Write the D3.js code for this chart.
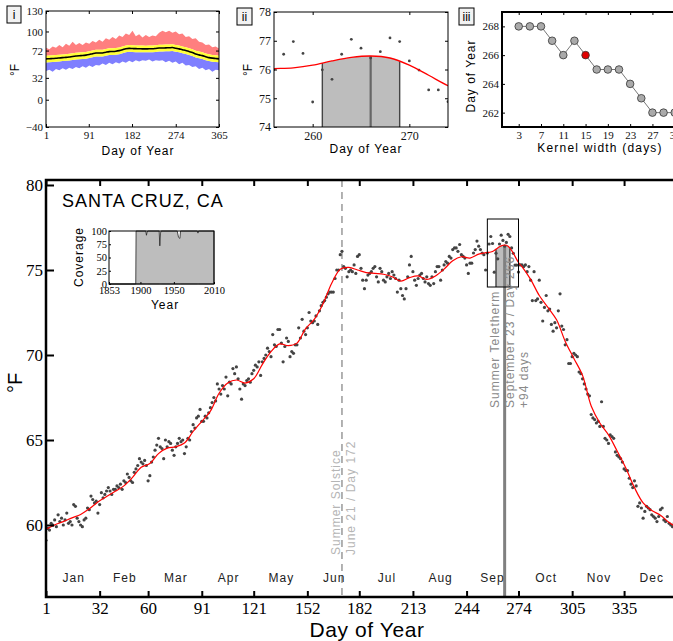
<!DOCTYPE html>
<html>
<head>
<meta charset="utf-8">
<script src="https://cdn.jsdelivr.net/npm/d3@7"></script>
<style>
  body { margin: 0; background: #fff; }
  svg text { font-family: "Liberation Sans", Arial, sans-serif; }
</style>
</head>
<body>
<svg id="chart" width="673" height="641"></svg>
<script>
// ---- daily mean max temperature (deg F), one array per month ----
const jan = [59.1,59.8,59.7,60.1,60.0,60.3,59.9,60.6,60.2,60.4, 60.0,60.3,60.7,60.1,60.2,60.0,61.2,61.1,60.4,60.2, 60.0,59.9,60.3,60.4,61.0,60.9,61.7,61.5,61.3,61.4, 60.7];
const feb = [61.2,61.9,61.6,61.8,62.0,62.2,62.0,61.8,62.1, 62.1,62.3,62.2,62.4,62.1,62.6,62.5,63.0,62.8,62.6, 62.5,63.1,63.3,63.5,63.9,63.7,63.6,63.8,63.5];
const mar = [62.6, 62.9,63.7,64.0,64.4,64.7,65.1,64.6,64.5,63.9,65.0, 64.6,64.9,64.8,64.4,64.1,64.6,64.8,65.1,64.9,65.0, 64.2,64.6,65.1,65.0,65.5,65.9,65.7,66.3,66.4,66.8];
const apr = [66.1,66.1,66.4,66.3,66.6,66.9,67.2,67.5,67.3,68.3, 68.0,67.7,68.2,68.0,68.7,67.6,68.4,68.3,69.2,68.9, 69.3,68.6,68.0,67.4,68.3,68.2,68.5,68.6,68.4,68.9];
const may = [69.1,69.4,69.3,69.6,68.8,69.6,69.8,70.0,70.4,70.2, 69.9,71.2,70.6,70.5,71.5,71.5,70.7,69.6,70.5,71.0, 70.8,69.9,70.2,70.1,70.6,70.6,71.6,71.0,72.1,71.4, 71.2];
const jun = [71.6,72.5,72.0,71.9,72.0,72.3,71.8,72.6,72.9, 73.1,73.2,73.4,73.6,73.7,73.7,73.7,74.5,75.0,75.0, 75.9,76.1,75.2,75.1,74.6,74.9,75.0,74.9,75.3,74.8, 75.8];
const jul = [75.9,75.1,74.4,73.9,74.4,74.7,74.8,74.9,75.1, 75.2,74.6,74.3,75.1,74.9,74.4,74.3,74.6,74.8,74.5, 74.9,74.7,74.5,73.7,74.4,73.9,73.5,73.3,73.9,74.6, 75.3,75.8];
const aug = [74.9,74.4,74.1,74.5,74.7,74.8,74.5,74.3, 74.6,74.2,74.1,74.6,74.2,74.9,75.2,75.2,74.4,75.0, 75.3,75.5,75.4,75.8,75.7,76.2,76.3,76.3,76.1,76.5, 75.9,75.8,75.7];
const sep = [75.3,74.8,75.4,75.4,76.0,76.2,76.7, 76.4,76.2,76.0,75.9,75.0, 76.0,76.53,76.97,76.56,74.87,75.99,75.66,76.53,77.05,76.74,76.4,76.62,77.1,76.97,76.3,75.98,75.29,75.29];
const oct = [74.88, 75.3,75.3,75.2,75.3,74.9,75.2, 74.4,73.2,74.9,73.2,73.3,74.4,73.1,72.0,72.8,73.5, 72.6,72.7,71.8,71.4,71.9,71.6,72.6,73.6,71.7,71.5, 70.6,70.9,69.5,69.5];
const nov = [69.9,70.1,70.0,69.9,69.0,68.9, 68.6,68.3,68.0,67.7,67.6,66.5,66.3,66.2,66.0,66.1, 65.8,67.25,65.8,65.1,65.0,64.8,65.3,65.2,65.1,64.3, 64.1,64.0,63.9,63.7];
const dec = [63.3,63.2,63.2,62.75,62.4,62.2, 62.6,62.3,61.1,61.3,61.0,60.4,60.8,61.1,61.0,60.9, 60.6,60.5,60.4,60.2,60.5,60.9,61.0,60.3,60.2,60.5, 60.1,60.0,59.9,60.1,60.0];

// ---- smoothed (kernel) curve ----
const curveDay  = [1,6,11,16,21,26,31,36,41,46,51,56,61,66,71,76,81,86,91,96,101,106,111,116,121,126,131,136,141,146,151,156,161,166,171,176,181,186,191,196,201,206,211,216,221,226,231,236,241,246,251,254,256,258,260,262,264,266,268,270,272,274,276,281,286,291,296,301,306,311,316,321,326,331,336,341,346,351,356,361,365];
const curveTemp = [59.75,60.0,60.2,60.42,60.62,60.95,61.35,61.67,61.98,62.3,62.8,63.4,63.62,64.2,64.52,64.6,64.82,65.5,66.1,66.7,67.75,68.35,68.53,68.35,68.6,69.45,70.2,70.65,70.55,70.7,71.55,72.1,73.0,74.2,75.05,75.15,75.0,74.85,74.8,74.75,74.6,74.35,74.55,74.65,74.45,74.65,75.05,75.55,75.78,75.7,75.93,76.0,76.03,76.06,76.15,76.3,76.42,76.47,76.4,76.15,75.8,75.44,75.2,74.45,73.5,72.8,72.07,70.8,69.8,68.8,67.0,66.0,65.3,64.35,63.35,62.2,61.3,60.85,60.58,60.15,59.9];

const monthStart = [1,32,60,91,121,152,182,213,244,274,305,335];
const monthNames = ["Jan","Feb","Mar","Apr","May","Jun","Jul","Aug","Sep","Oct","Nov","Dec"];
const monthMid   = [17,46.5,76,106.5,137,167.5,198,229,259,290,320.5,351];
const mainYTicks = [60,65,70,75,80];

const solsticeDay = 172, telethermDay = 266;
const windowLo = 261, windowHi = 269;     // kernel window around teletherm
const zoomBox = {d0: 256, d1: 274, t0: 74, t1: 78};

// ---- panel i: record band, sd band, mean ----
const p1Day   = [1,8,15,22,29,36,43,50,57,64,71,78,85,92,99,106,113,120,127,134,141,148,155,162,169,176,183,190,197,204,211,218,225,232,239,246,253,260,267,274,281,288,295,302,309,316,323,330,337,344,351,358,365];
const p1High  = [76,74,78,76,80,77,82,79,85,80,83,80,84,82,86,84,88,85,90,88,92,89,94,92,97,95,101,93,96,91,95,92,94,93,98,101,99,101,98,100,96,97,92,93,89,90,85,84,80,81,77,78,75];
const p1Upper = [64.5,64.8,65.0,65.4,66.0,66.3,66.8,67.5,68.1,68.7,69.3,69.5,70.0,71.0,72.2,73.1,73.3,73.2,74.3,75.3,75.4,75.8,76.6,78.0,79.6,80.0,79.8,79.5,79.4,79.3,79.2,79.4,79.3,79.9,80.5,80.5,80.8,80.9,81.2,80.2,79.3,78.0,77.0,75.4,74.0,71.8,70.5,69.4,67.8,66.5,65.6,65.1,64.6];
const p1Mean  = [59.8,60.1,60.4,60.7,61.2,61.7,62.1,62.7,63.4,64.0,64.5,64.7,65.3,66.2,67.4,68.4,68.4,68.5,69.6,70.5,70.6,71.0,71.9,73.2,74.8,75.2,75.0,74.8,74.7,74.5,74.5,74.6,74.6,75.1,75.7,75.7,76.0,76.1,76.4,75.4,74.5,73.2,72.2,70.6,69.2,67.0,65.7,64.6,63.1,61.7,60.9,60.4,59.9];
const p1Lower = [54.6,54.9,55.3,55.6,56.1,56.6,57.0,57.6,58.3,58.9,59.3,59.6,60.2,61.1,62.3,63.3,63.3,63.4,64.5,65.4,65.5,65.9,66.8,68.1,69.7,70.1,69.9,69.7,69.6,69.4,69.4,69.5,69.5,70.0,70.6,70.6,70.9,71.0,71.3,70.3,69.4,68.1,67.1,65.5,64.1,61.9,60.6,59.5,58.0,56.6,55.8,55.3,54.8];
const p1Low   = [42,44,41,45,43,46,44,47,45,48,46,49,47,50,48,51,50,53,51,54,52,55,53,56,54,57,55,58,56,58,57,59,56,58,57,58,55,57,54,56,52,54,50,51,48,49,45,47,43,45,41,44,43];
const p1XTicks = [1,91,182,274,365];
const p1YTicks = [-40,0,32,72,100,130];

// ---- panel iii: teletherm day vs kernel width ----
const kernelWidth = [3,5,7,9,11,13,15,17,19,21,23,25,27,29,31];
const kernelDay   = [268,268,268,267,266,267,266,265,265,265,264,263,262,262,262];
const chosenWidth = 15;

// ---- inset: data coverage ----
const covYear = [1853,1893,1893.5,1908,1909,1910,1911,1928,1929,1930,1931,1955,1957,1959,1960,1985,1986,1987,2010];
const covPct  = [0,0,100,100,92,98,100,100,72,96,100,100,88,86,100,100,96,100,100];

const daily = [].concat(jan,feb,mar,apr,may,jun,jul,aug,sep,oct,nov,dec).map((t,i) => ({day: i + 1, t}));
if (daily.length !== 365) console.error("daily length", daily.length);
const curvePts = curveDay.map((d,i) => ({day: d, t: curveTemp[i]}));
const curveAt = d3.scaleLinear().domain(curveDay).range(curveTemp);

const serif = '"Liberation Serif", "Times New Roman", serif';
const svg = d3.select("#chart");
const defs = svg.append("defs");

// ticks inward on all four sides, labels left + bottom
function panelAxes(g, xs, ys, xTicks, yTicks, tickLen, fontSize) {
    const [xa, xb] = xs.range(), [yb, ya] = ys.range();
    g.append("g").attr("transform", `translate(0,${yb})`)
        .call(d3.axisBottom(xs).tickValues(xTicks).tickFormat(d3.format("d")).tickSize(-tickLen).tickPadding(4));
    g.append("g").attr("transform", `translate(0,${ya})`)
        .call(d3.axisTop(xs).tickValues(xTicks).tickSize(-tickLen).tickFormat(""));
    g.append("g").attr("transform", `translate(${xa},0)`)
        .call(d3.axisLeft(ys).tickValues(yTicks).tickFormat(d3.format("d")).tickSize(-tickLen).tickPadding(3));
    g.append("g").attr("transform", `translate(${xb},0)`)
        .call(d3.axisRight(ys).tickValues(yTicks).tickSize(-tickLen).tickFormat(""));
    g.selectAll(".domain").remove();
    g.selectAll(".tick text").style("font-family", serif).style("font-size", fontSize + "px").attr("fill", "#111");
}

function panelTag(label, x0, y0, w) {
    svg.append("rect").attr("x", x0).attr("y", y0).attr("width", w).attr("height", 17)
        .attr("fill", "#f2f2f2").attr("stroke", "#000").attr("stroke-width", 1);
    svg.append("text").attr("x", x0 + w / 2).attr("y", y0 + 13).attr("text-anchor", "middle")
        .style("font-size", "12px").text(label);
}

// ================= panel i =================
{
    const xs = d3.scaleLinear().domain([1,365]).range([46,219]);
    const ys = d3.scaleLinear().domain([-40,130]).range([127,11]);
    const g = svg.append("g");
    const idx = p1Day.map((d,i) => i);
    const band = (lo, hi) => d3.area().x(i => xs(p1Day[i])).y0(i => ys(lo[i])).y1(i => ys(hi[i]));
    g.append("path").datum(idx).attr("d", band(p1Upper, p1High)).attr("fill", "#ff7f7f");
    g.append("path").datum(idx).attr("d", band(p1Low, p1Lower)).attr("fill", "#7f7fff");
    g.append("path").datum(idx).attr("d", band(p1Lower, p1Upper)).attr("fill", "#ffff3a");
    g.append("path").datum(idx)
        .attr("d", d3.line().x(i => xs(p1Day[i])).y(i => ys(p1Mean[i])).curve(d3.curveCatmullRom))
        .attr("fill", "none").attr("stroke", "#000").attr("stroke-width", 1.6);
    panelAxes(g, xs, ys, p1XTicks, p1YTicks, 3, 11);
    g.append("rect").attr("x", 46).attr("y", 11).attr("width", 173).attr("height", 116)
        .attr("fill", "none").attr("stroke", "#000");
    g.append("text").attr("x", 138).attr("y", 155).attr("text-anchor", "middle")
        .style("font-size", "12px").style("letter-spacing", "1px").text("Day of Year");
    g.append("text").attr("transform", "translate(19,70) rotate(-90)").attr("text-anchor", "middle")
        .style("font-size", "12px").text("°F");
    panelTag("i", 7, 6, 14);
}

// ================= panel ii =================
{
    const xs = d3.scaleLinear().domain([zoomBox.d0, zoomBox.d1]).range([274,448]);
    const ys = d3.scaleLinear().domain([zoomBox.t0, zoomBox.t1]).range([127,12]);
    const g = svg.append("g");
    defs.append("clipPath").attr("id", "clip2").append("rect")
        .attr("x", 274).attr("y", 12).attr("width", 174).attr("height", 115);
    defs.append("clipPath").attr("id", "win2").append("rect")
        .attr("x", xs(windowLo)).attr("y", 12).attr("width", xs(windowHi) - xs(windowLo)).attr("height", 115);
    const inner = g.append("g").attr("clip-path", "url(#clip2)");
    inner.append("path").datum(curvePts)
        .attr("clip-path", "url(#win2)")
        .attr("d", d3.area().x(d => xs(d.day)).y0(ys(zoomBox.t0)).y1(d => ys(d.t)).curve(d3.curveCatmullRom))
        .attr("fill", "#bdbdbd");
    [windowLo, telethermDay, windowHi].forEach(d => {
        inner.append("line").attr("x1", xs(d)).attr("x2", xs(d))
            .attr("y1", ys(zoomBox.t0)).attr("y2", ys(curveAt(d)))
            .attr("stroke", d === telethermDay ? "#666" : "#444").attr("stroke-width", d === telethermDay ? 2.2 : 1.4);
    });
    inner.selectAll("circle").data(daily.filter(d => d.day >= zoomBox.d0 && d.day <= zoomBox.d1))
        .join("circle").attr("cx", d => xs(d.day)).attr("cy", d => ys(d.t)).attr("r", 1.4).attr("fill", "#444");
    inner.append("path").datum(curvePts)
        .attr("d", d3.line().x(d => xs(d.day)).y(d => ys(d.t)).curve(d3.curveCatmullRom))
        .attr("fill", "none").attr("stroke", "#f00").attr("stroke-width", 1.3);
    panelAxes(g, xs, ys, [260,270], [74,75,76,77,78], 3, 12);
    g.append("rect").attr("x", 274).attr("y", 12).attr("width", 174).attr("height", 115)
        .attr("fill", "none").attr("stroke", "#000");
    g.append("text").attr("x", 366).attr("y", 153).attr("text-anchor", "middle")
        .style("font-size", "12px").style("letter-spacing", "1px").text("Day of Year");
    g.append("text").attr("transform", "translate(252,70) rotate(-90)").attr("text-anchor", "middle")
        .style("font-size", "12px").text("°F");
    panelTag("ii", 237, 8, 15);
}

// ================= panel iii =================
{
    const xs = d3.scaleLinear().domain([0,31.5]).range([502,677.5]);
    const ys = d3.scaleLinear().domain([261,269]).range([127,12]);
    const g = svg.append("g");
    const pts = kernelWidth.map((w,i) => ({w, d: kernelDay[i]}));
    g.append("path").datum(pts)
        .attr("d", d3.line().x(p => xs(p.w)).y(p => ys(p.d)))
        .attr("fill", "none").attr("stroke", "#777").attr("stroke-width", 1);
    g.selectAll("circle").data(pts).join("circle")
        .attr("cx", p => xs(p.w)).attr("cy", p => ys(p.d)).attr("r", 3.8)
        .attr("fill", p => p.w === chosenWidth ? "#e00000" : "#aaa")
        .attr("stroke", "#333").attr("stroke-width", 0.8);
    panelAxes(g, xs, ys, [3,7,11,15,19,23,27,31], [262,264,266,268], 3, 11);
    g.append("path").attr("d", `M677,12 H502 V127 H677`).attr("fill", "none").attr("stroke", "#000").attr("stroke-width", 2);
    g.append("text").attr("x", 600).attr("y", 152).attr("text-anchor", "middle")
        .style("font-size", "12px").style("letter-spacing", "1.2px").text("Kernel width (days)");
    g.append("text").attr("transform", "translate(475,76) rotate(-90)").attr("text-anchor", "middle")
        .style("font-size", "12px").style("letter-spacing", "1px").text("Day of Year");
    panelTag("iii", 459, 8, 15);
}

// ================= main chart =================
const x = d3.scaleLinear().domain([1,365]).range([46,676]);
const y = d3.scaleLinear().domain([60,80]).range([525,185]);
const plotTop = 180, plotBot = 597;

defs.append("clipPath").attr("id", "mainClip").append("rect")
    .attr("x", 46).attr("y", plotTop).attr("width", 630).attr("height", plotBot - plotTop);
defs.append("clipPath").attr("id", "winMain").append("rect")
    .attr("x", x(windowLo)).attr("y", plotTop).attr("width", x(windowHi) - x(windowLo)).attr("height", plotBot - plotTop);

const main = svg.append("g").attr("clip-path", "url(#mainClip)");

// kernel window fill under curve
main.append("path").datum(curvePts).attr("clip-path", "url(#winMain)")
    .attr("d", d3.area().x(d => x(d.day)).y0(y(zoomBox.t0)).y1(d => y(d.t)).curve(d3.curveCatmullRom))
    .attr("fill", "#bdbdbd");
[windowLo, windowHi].forEach(d => {
    main.append("line").attr("x1", x(d)).attr("x2", x(d))
        .attr("y1", y(zoomBox.t0)).attr("y2", y(curveAt(d)))
        .attr("stroke", "#444").attr("stroke-width", 1.4);
});

// solstice
main.append("line").attr("x1", x(solsticeDay)).attr("x2", x(solsticeDay))
    .attr("y1", plotTop).attr("y2", plotBot)
    .attr("stroke", "#999").attr("stroke-width", 1.5).attr("stroke-dasharray", "7,5");

// teletherm
main.append("line").attr("x1", x(telethermDay)).attr("x2", x(telethermDay))
    .attr("y1", y(curveAt(telethermDay))).attr("y2", plotBot)
    .attr("stroke", "#808080").attr("stroke-width", 3);

main.selectAll("circle.dot").data(daily).join("circle").attr("class", "dot")
    .attr("cx", d => x(d.day)).attr("cy", d => y(d.t)).attr("r", 1.6).attr("fill", "#444");

main.append("path").datum(curvePts)
    .attr("d", d3.line().x(d => x(d.day)).y(d => y(d.t)).curve(d3.curveCatmullRom))
    .attr("fill", "none").attr("stroke", "#f00").attr("stroke-width", 1.2);

main.append("rect").attr("x", x(zoomBox.d0)).attr("y", y(zoomBox.t1))
    .attr("width", x(zoomBox.d1) - x(zoomBox.d0)).attr("height", y(zoomBox.t0) - y(zoomBox.t1))
    .attr("fill", "none").attr("stroke", "#000").attr("stroke-width", 1);

// annotations
const annot = (lines, x0, yStart, color, gap) => {
    lines.forEach((s, i) => {
        svg.append("text").attr("transform", `translate(${x0 + i * gap},${yStart}) rotate(-90)`)
            .attr("fill", color).style("font-size", "12px").style("letter-spacing", "1px").text(s);
    });
};
annot(["Summer Solstice", "June 21 / Day 172"], 340, 555, "#b5b5b5", 14.5);
annot(["Summer Teletherm", "September 23 / Day 266", "+94 days"], 499, 408, "#8a8a8a", 14.5);

// month labels
svg.append("g").selectAll("text").data(monthNames).join("text")
    .attr("x", (m,i) => x(monthMid[i])).attr("y", 582).attr("text-anchor", "middle")
    .attr("fill", "#222").style("font-size", "12px").style("letter-spacing", "1px").text(m => m);

// axes / frame
const ax = svg.append("g");
ax.append("g").attr("transform", `translate(0,${plotBot})`)
    .call(d3.axisBottom(x).tickValues(monthStart).tickSize(-6).tickPadding(5));
ax.append("g").attr("transform", `translate(0,${plotTop})`)
    .call(d3.axisTop(x).tickValues(monthStart).tickSize(-6).tickFormat(""));
ax.append("g").attr("transform", `translate(46,0)`)
    .call(d3.axisLeft(y).tickValues(mainYTicks).tickSize(-8).tickPadding(3));
ax.selectAll(".domain").remove();
ax.selectAll(".tick line").attr("stroke", "#000").attr("stroke-width", 2);
ax.selectAll(".tick text").style("font-family", serif).style("font-size", "17px").attr("fill", "#000");
ax.append("path").attr("d", `M673,${plotTop} H46 V${plotBot} H673`)
    .attr("fill", "none").attr("stroke", "#000").attr("stroke-width", 2.5);

svg.append("text").attr("x", 367).attr("y", 637).attr("text-anchor", "middle")
    .style("font-size", "21px").style("letter-spacing", "0.6px").text("Day of Year");
svg.append("text").attr("transform", "translate(22,383) rotate(-90)").attr("text-anchor", "middle")
    .style("font-size", "20px").text("°F");
svg.append("text").attr("x", 62).attr("y", 207)
    .style("font-size", "18px").style("letter-spacing", "1px").text("SANTA CRUZ, CA");

// ================= inset: coverage =================
{
    const xs = d3.scaleLinear().domain([1853, 2010]).range([109, 214]);
    const ys = d3.scaleLinear().domain([0, 100]).range([284, 231]);
    const g = svg.append("g");
    g.append("rect").attr("x", 109).attr("y", 231).attr("width", 105).attr("height", 53).attr("fill", "#fff");
    const pts = covYear.map((yr,i) => ({yr, v: covPct[i]}));
    g.append("path").datum(pts)
        .attr("d", d3.area().x(p => xs(p.yr)).y0(ys(0)).y1(p => ys(p.v)))
        .attr("fill", "#bdbdbd").attr("stroke", "#222").attr("stroke-width", 0.8);
    g.append("g").attr("transform", "translate(0,284)")
        .call(d3.axisBottom(xs).tickValues([1853,1900,1950,2010]).tickFormat(d3.format("d")).tickSize(-2).tickPadding(3));
    g.append("g").attr("transform", "translate(109,0)")
        .call(d3.axisLeft(ys).tickValues([0,25,50,75,100]).tickSize(-2).tickPadding(2));
    g.selectAll(".domain").remove();
    g.selectAll(".tick text").style("font-family", serif).style("font-size", "10.5px").attr("fill", "#000");
    g.append("rect").attr("x", 109).attr("y", 231).attr("width", 105).attr("height", 53)
        .attr("fill", "none").attr("stroke", "#000").attr("stroke-width", 1);
    g.append("text").attr("x", 165).attr("y", 309).attr("text-anchor", "middle")
        .style("font-size", "12px").style("letter-spacing", "1px").text("Year");
    g.append("text").attr("transform", "translate(83,257) rotate(-90)").attr("text-anchor", "middle")
        .style("font-size", "12px").style("letter-spacing", "1px").text("Coverage");
}
</script>
</body>
</html>
